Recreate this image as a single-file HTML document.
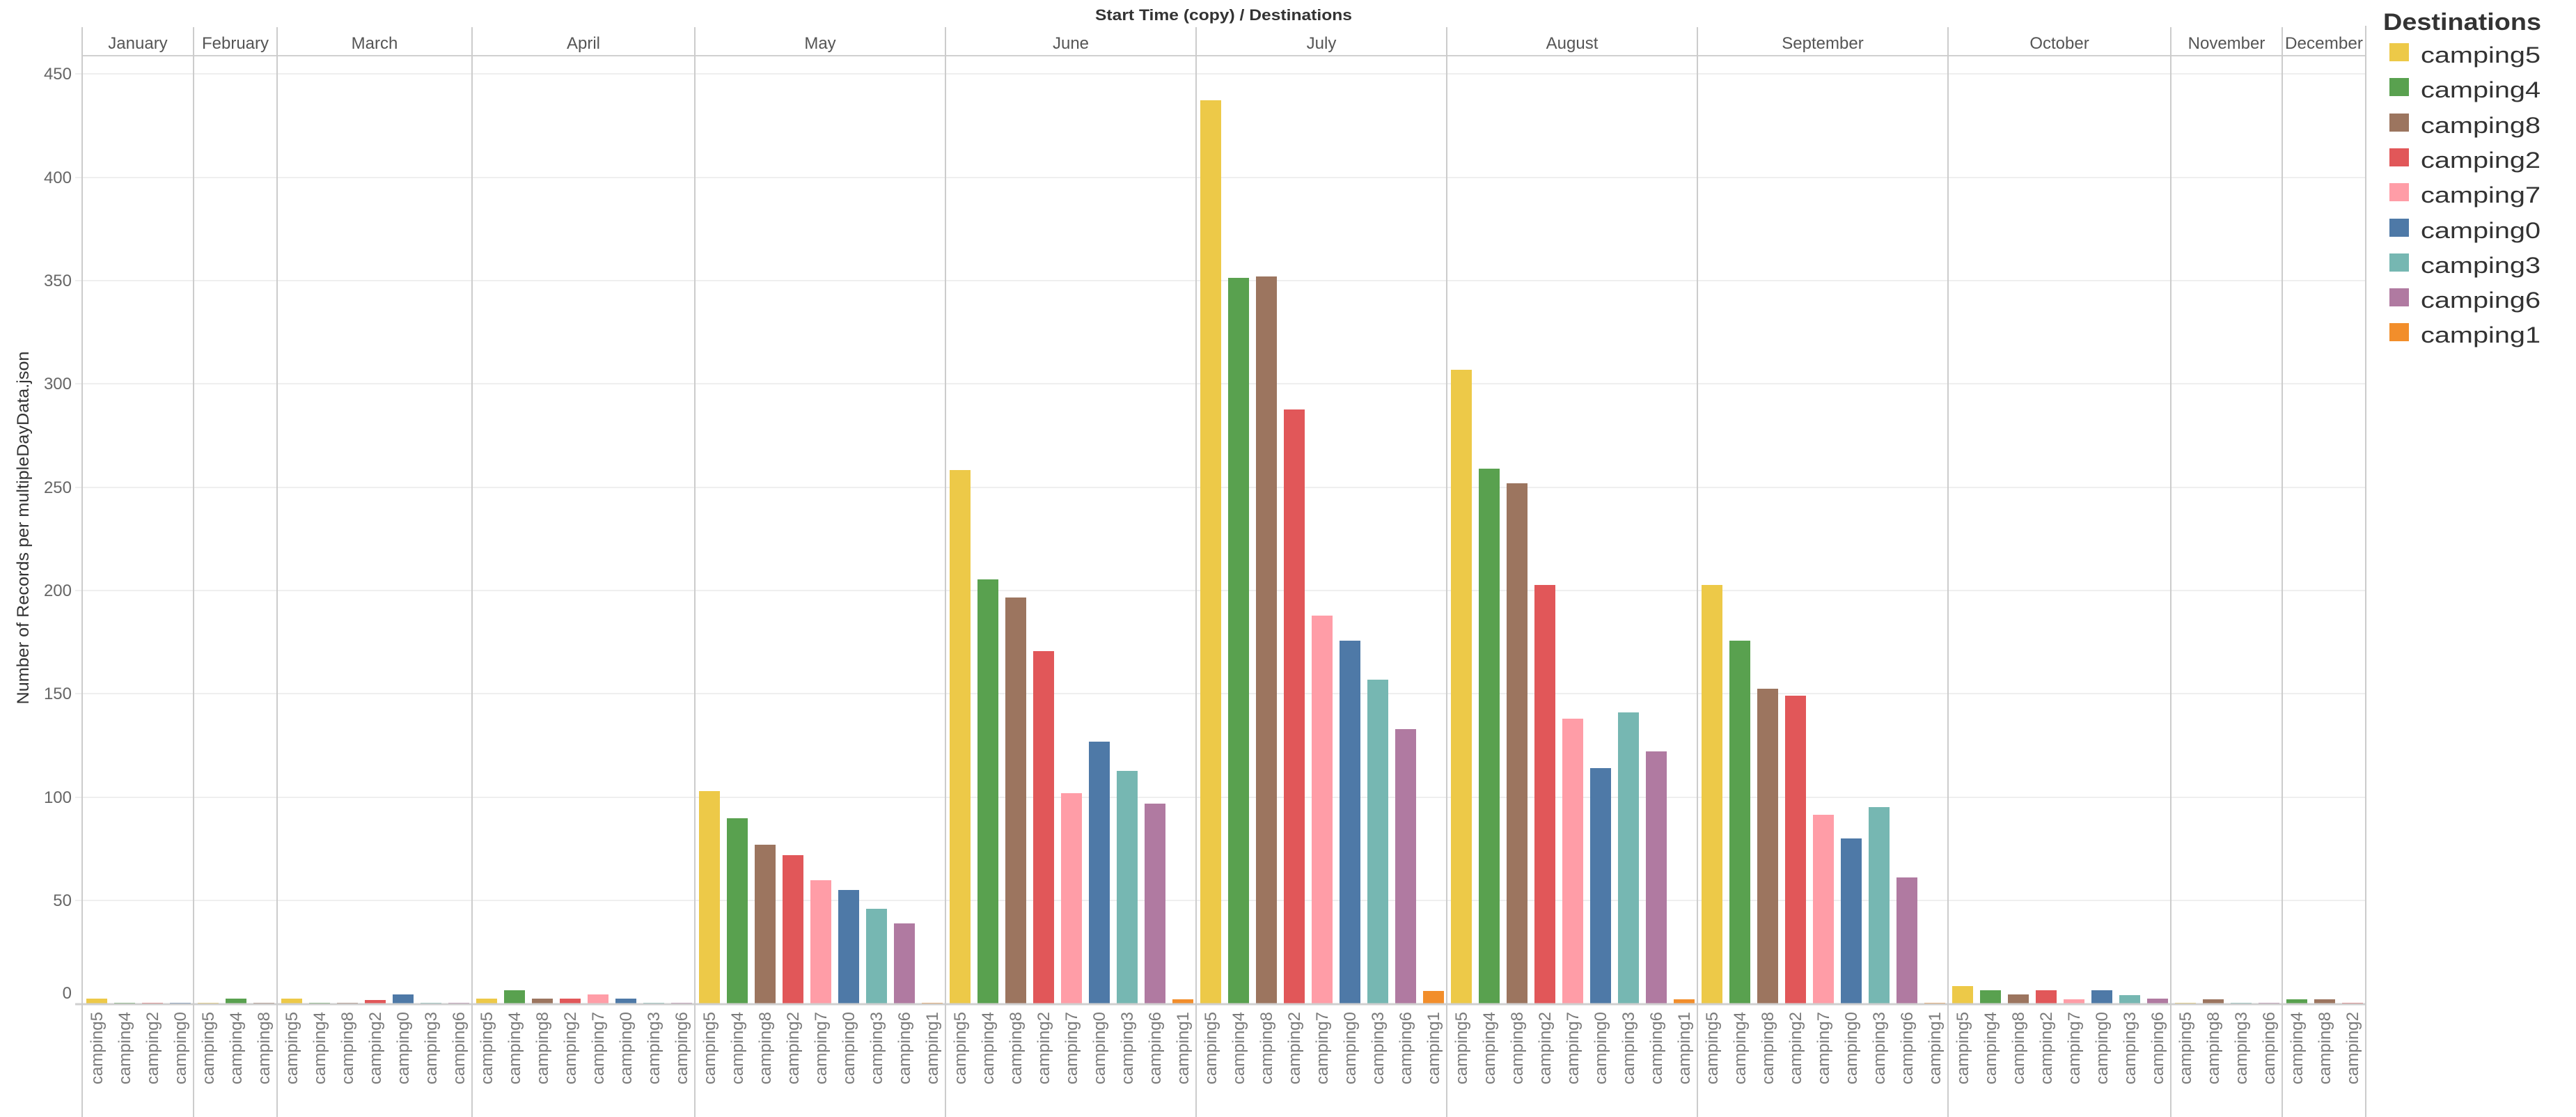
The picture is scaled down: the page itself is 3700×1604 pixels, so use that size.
<!DOCTYPE html>
<html><head><meta charset="utf-8"><style>
html,body{margin:0;padding:0;background:#fff;}
svg{display:block;}
.c5{fill:#edc948}.c4{fill:#59a14f}.c8{fill:#9c755f}.c2{fill:#e15759}.c7{fill:#ff9da7}.c0{fill:#4e79a7}.c3{fill:#76b7b2}.c6{fill:#b07aa1}.c1{fill:#f28e2b}
.xl{font-family:"Liberation Sans",sans-serif;font-size:24px;fill:#7a7a7a;}
.yl{font-family:"Liberation Sans",sans-serif;font-size:24px;fill:#666;}
.ml{font-family:"Liberation Sans",sans-serif;font-size:24px;fill:#555;}
.lg{font-family:"Liberation Sans",sans-serif;font-size:32px;fill:#333;}
</style></head><body>
<svg width="3700" height="1604" viewBox="0 0 3700 1604" xmlns="http://www.w3.org/2000/svg">
<rect width="3700" height="1604" fill="#fff"/>
<!-- gridlines -->
<g stroke="#efefef" stroke-width="2">
<line x1="108" y1="1293" x2="3398" y2="1293"/>
<line x1="108" y1="1145" x2="3398" y2="1145"/>
<line x1="108" y1="996" x2="3398" y2="996"/>
<line x1="108" y1="848" x2="3398" y2="848"/>
<line x1="108" y1="700" x2="3398" y2="700"/>
<line x1="108" y1="551" x2="3398" y2="551"/>
<line x1="108" y1="403" x2="3398" y2="403"/>
<line x1="108" y1="255" x2="3398" y2="255"/>
<line x1="108" y1="106" x2="3398" y2="106"/>
</g>
<!-- title -->
<text x="1573" y="29" font-family="Liberation Sans,sans-serif" font-size="22" font-weight="bold" fill="#333" textLength="369" lengthAdjust="spacingAndGlyphs">Start Time (copy)  /  Destinations</text>
<!-- y axis title -->
<text transform="translate(41,758) rotate(-90)" text-anchor="middle" font-family="Liberation Sans,sans-serif" font-size="24" fill="#333" textLength="507" lengthAdjust="spacingAndGlyphs">Number of Records per multipleDayData.json</text>
<!-- y labels -->
<g class="yl" text-anchor="end">
<text x="103" y="114">450</text>
<text x="103" y="263">400</text>
<text x="103" y="411">350</text>
<text x="103" y="559">300</text>
<text x="103" y="708">250</text>
<text x="103" y="856">200</text>
<text x="103" y="1004">150</text>
<text x="103" y="1153">100</text>
<text x="103" y="1301">50</text>
<text x="103" y="1434">0</text>
</g>
<!-- month labels -->
<g class="ml" text-anchor="middle">
<text x="198" y="70">January</text>
<text x="338" y="70">February</text>
<text x="538" y="70">March</text>
<text x="838" y="70">April</text>
<text x="1178" y="70">May</text>
<text x="1538" y="70">June</text>
<text x="1898" y="70">July</text>
<text x="2258" y="70">August</text>
<text x="2618" y="70">September</text>
<text x="2958" y="70">October</text>
<text x="3198" y="70">November</text>
<text x="3338" y="70" textLength="112" lengthAdjust="spacingAndGlyphs">December</text>
</g>
<!-- bars -->
<g>
<rect class="c5" x="124" y="1434" width="30" height="7"/>
<rect class="c4" x="164" y="1440" width="30" height="1"/>
<rect class="c2" x="204" y="1440" width="30" height="1"/>
<rect class="c0" x="244" y="1440" width="30" height="1"/>
<rect class="c5" x="284" y="1440" width="30" height="1"/>
<rect class="c4" x="324" y="1434" width="30" height="7"/>
<rect class="c8" x="364" y="1440" width="30" height="1"/>
<rect class="c5" x="404" y="1434" width="30" height="7"/>
<rect class="c4" x="444" y="1440" width="30" height="1"/>
<rect class="c8" x="484" y="1440" width="30" height="1"/>
<rect class="c2" x="524" y="1436" width="30" height="5"/>
<rect class="c0" x="564" y="1428" width="30" height="13"/>
<rect class="c3" x="604" y="1440" width="30" height="1"/>
<rect class="c6" x="644" y="1440" width="30" height="1"/>
<rect class="c5" x="684" y="1434" width="30" height="7"/>
<rect class="c4" x="724" y="1422" width="30" height="19"/>
<rect class="c8" x="764" y="1434" width="30" height="7"/>
<rect class="c2" x="804" y="1434" width="30" height="7"/>
<rect class="c7" x="844" y="1428" width="30" height="13"/>
<rect class="c0" x="884" y="1434" width="30" height="7"/>
<rect class="c3" x="924" y="1440" width="30" height="1"/>
<rect class="c6" x="964" y="1440" width="30" height="1"/>
<rect class="c5" x="1004" y="1136" width="30" height="305"/>
<rect class="c4" x="1044" y="1175" width="30" height="266"/>
<rect class="c8" x="1084" y="1213" width="30" height="228"/>
<rect class="c2" x="1124" y="1228" width="30" height="213"/>
<rect class="c7" x="1164" y="1264" width="30" height="177"/>
<rect class="c0" x="1204" y="1278" width="30" height="163"/>
<rect class="c3" x="1244" y="1305" width="30" height="136"/>
<rect class="c6" x="1284" y="1326" width="30" height="115"/>
<rect class="c1" x="1324" y="1440" width="30" height="1"/>
<rect class="c5" x="1364" y="675" width="30" height="766"/>
<rect class="c4" x="1404" y="832" width="30" height="609"/>
<rect class="c8" x="1444" y="858" width="30" height="583"/>
<rect class="c2" x="1484" y="935" width="30" height="506"/>
<rect class="c7" x="1524" y="1139" width="30" height="302"/>
<rect class="c0" x="1564" y="1065" width="30" height="376"/>
<rect class="c3" x="1604" y="1107" width="30" height="334"/>
<rect class="c6" x="1644" y="1154" width="30" height="287"/>
<rect class="c1" x="1684" y="1435" width="30" height="6"/>
<rect class="c5" x="1724" y="144" width="30" height="1297"/>
<rect class="c4" x="1764" y="399" width="30" height="1042"/>
<rect class="c8" x="1804" y="397" width="30" height="1044"/>
<rect class="c2" x="1844" y="588" width="30" height="853"/>
<rect class="c7" x="1884" y="884" width="30" height="557"/>
<rect class="c0" x="1924" y="920" width="30" height="521"/>
<rect class="c3" x="1964" y="976" width="30" height="465"/>
<rect class="c6" x="2004" y="1047" width="30" height="394"/>
<rect class="c1" x="2044" y="1423" width="30" height="18"/>
<rect class="c5" x="2084" y="531" width="30" height="910"/>
<rect class="c4" x="2124" y="673" width="30" height="768"/>
<rect class="c8" x="2164" y="694" width="30" height="747"/>
<rect class="c2" x="2204" y="840" width="30" height="601"/>
<rect class="c7" x="2244" y="1032" width="30" height="409"/>
<rect class="c0" x="2284" y="1103" width="30" height="338"/>
<rect class="c3" x="2324" y="1023" width="30" height="418"/>
<rect class="c6" x="2364" y="1079" width="30" height="362"/>
<rect class="c1" x="2404" y="1435" width="30" height="6"/>
<rect class="c5" x="2444" y="840" width="30" height="601"/>
<rect class="c4" x="2484" y="920" width="30" height="521"/>
<rect class="c8" x="2524" y="989" width="30" height="452"/>
<rect class="c2" x="2564" y="999" width="30" height="442"/>
<rect class="c7" x="2604" y="1170" width="30" height="271"/>
<rect class="c0" x="2644" y="1204" width="30" height="237"/>
<rect class="c3" x="2684" y="1159" width="30" height="282"/>
<rect class="c6" x="2724" y="1260" width="30" height="181"/>
<rect class="c1" x="2764" y="1440" width="30" height="1"/>
<rect class="c5" x="2804" y="1416" width="30" height="25"/>
<rect class="c4" x="2844" y="1422" width="30" height="19"/>
<rect class="c8" x="2884" y="1428" width="30" height="13"/>
<rect class="c2" x="2924" y="1422" width="30" height="19"/>
<rect class="c7" x="2964" y="1435" width="30" height="6"/>
<rect class="c0" x="3004" y="1422" width="30" height="19"/>
<rect class="c3" x="3044" y="1429" width="30" height="12"/>
<rect class="c6" x="3084" y="1434" width="30" height="7"/>
<rect class="c5" x="3124" y="1440" width="30" height="1"/>
<rect class="c8" x="3164" y="1435" width="30" height="6"/>
<rect class="c3" x="3204" y="1440" width="30" height="1"/>
<rect class="c6" x="3244" y="1440" width="30" height="1"/>
<rect class="c4" x="3284" y="1435" width="30" height="6"/>
<rect class="c8" x="3324" y="1435" width="30" height="6"/>
<rect class="c2" x="3364" y="1440" width="30" height="1"/>
</g>
<!-- axis & frame lines -->
<line x1="108" y1="1442" x2="3398" y2="1442" stroke="#cfcfcf" stroke-width="3"/>
<line x1="118" y1="80" x2="3398" y2="80" stroke="#d0d0d0" stroke-width="2"/>
<g stroke="#cccccc" stroke-width="2">
<line x1="118" y1="39" x2="118" y2="1604"/>
<line x1="278" y1="39" x2="278" y2="1604"/>
<line x1="398" y1="39" x2="398" y2="1604"/>
<line x1="678" y1="39" x2="678" y2="1604"/>
<line x1="998" y1="39" x2="998" y2="1604"/>
<line x1="1358" y1="39" x2="1358" y2="1604"/>
<line x1="1718" y1="39" x2="1718" y2="1604"/>
<line x1="2078" y1="39" x2="2078" y2="1604"/>
<line x1="2438" y1="39" x2="2438" y2="1604"/>
<line x1="2798" y1="39" x2="2798" y2="1604"/>
<line x1="3118" y1="39" x2="3118" y2="1604"/>
<line x1="3278" y1="39" x2="3278" y2="1604"/>
<line x1="3398" y1="37" x2="3398" y2="1604"/>
</g>
<!-- x labels -->
<g class="xl" text-anchor="end">
<text transform="translate(147,1453) rotate(-90)">camping5</text>
<text transform="translate(187,1453) rotate(-90)">camping4</text>
<text transform="translate(227,1453) rotate(-90)">camping2</text>
<text transform="translate(267,1453) rotate(-90)">camping0</text>
<text transform="translate(307,1453) rotate(-90)">camping5</text>
<text transform="translate(347,1453) rotate(-90)">camping4</text>
<text transform="translate(387,1453) rotate(-90)">camping8</text>
<text transform="translate(427,1453) rotate(-90)">camping5</text>
<text transform="translate(467,1453) rotate(-90)">camping4</text>
<text transform="translate(507,1453) rotate(-90)">camping8</text>
<text transform="translate(547,1453) rotate(-90)">camping2</text>
<text transform="translate(587,1453) rotate(-90)">camping0</text>
<text transform="translate(627,1453) rotate(-90)">camping3</text>
<text transform="translate(667,1453) rotate(-90)">camping6</text>
<text transform="translate(707,1453) rotate(-90)">camping5</text>
<text transform="translate(747,1453) rotate(-90)">camping4</text>
<text transform="translate(787,1453) rotate(-90)">camping8</text>
<text transform="translate(827,1453) rotate(-90)">camping2</text>
<text transform="translate(867,1453) rotate(-90)">camping7</text>
<text transform="translate(907,1453) rotate(-90)">camping0</text>
<text transform="translate(947,1453) rotate(-90)">camping3</text>
<text transform="translate(987,1453) rotate(-90)">camping6</text>
<text transform="translate(1027,1453) rotate(-90)">camping5</text>
<text transform="translate(1067,1453) rotate(-90)">camping4</text>
<text transform="translate(1107,1453) rotate(-90)">camping8</text>
<text transform="translate(1147,1453) rotate(-90)">camping2</text>
<text transform="translate(1187,1453) rotate(-90)">camping7</text>
<text transform="translate(1227,1453) rotate(-90)">camping0</text>
<text transform="translate(1267,1453) rotate(-90)">camping3</text>
<text transform="translate(1307,1453) rotate(-90)">camping6</text>
<text transform="translate(1347,1453) rotate(-90)">camping1</text>
<text transform="translate(1387,1453) rotate(-90)">camping5</text>
<text transform="translate(1427,1453) rotate(-90)">camping4</text>
<text transform="translate(1467,1453) rotate(-90)">camping8</text>
<text transform="translate(1507,1453) rotate(-90)">camping2</text>
<text transform="translate(1547,1453) rotate(-90)">camping7</text>
<text transform="translate(1587,1453) rotate(-90)">camping0</text>
<text transform="translate(1627,1453) rotate(-90)">camping3</text>
<text transform="translate(1667,1453) rotate(-90)">camping6</text>
<text transform="translate(1707,1453) rotate(-90)">camping1</text>
<text transform="translate(1747,1453) rotate(-90)">camping5</text>
<text transform="translate(1787,1453) rotate(-90)">camping4</text>
<text transform="translate(1827,1453) rotate(-90)">camping8</text>
<text transform="translate(1867,1453) rotate(-90)">camping2</text>
<text transform="translate(1907,1453) rotate(-90)">camping7</text>
<text transform="translate(1947,1453) rotate(-90)">camping0</text>
<text transform="translate(1987,1453) rotate(-90)">camping3</text>
<text transform="translate(2027,1453) rotate(-90)">camping6</text>
<text transform="translate(2067,1453) rotate(-90)">camping1</text>
<text transform="translate(2107,1453) rotate(-90)">camping5</text>
<text transform="translate(2147,1453) rotate(-90)">camping4</text>
<text transform="translate(2187,1453) rotate(-90)">camping8</text>
<text transform="translate(2227,1453) rotate(-90)">camping2</text>
<text transform="translate(2267,1453) rotate(-90)">camping7</text>
<text transform="translate(2307,1453) rotate(-90)">camping0</text>
<text transform="translate(2347,1453) rotate(-90)">camping3</text>
<text transform="translate(2387,1453) rotate(-90)">camping6</text>
<text transform="translate(2427,1453) rotate(-90)">camping1</text>
<text transform="translate(2467,1453) rotate(-90)">camping5</text>
<text transform="translate(2507,1453) rotate(-90)">camping4</text>
<text transform="translate(2547,1453) rotate(-90)">camping8</text>
<text transform="translate(2587,1453) rotate(-90)">camping2</text>
<text transform="translate(2627,1453) rotate(-90)">camping7</text>
<text transform="translate(2667,1453) rotate(-90)">camping0</text>
<text transform="translate(2707,1453) rotate(-90)">camping3</text>
<text transform="translate(2747,1453) rotate(-90)">camping6</text>
<text transform="translate(2787,1453) rotate(-90)">camping1</text>
<text transform="translate(2827,1453) rotate(-90)">camping5</text>
<text transform="translate(2867,1453) rotate(-90)">camping4</text>
<text transform="translate(2907,1453) rotate(-90)">camping8</text>
<text transform="translate(2947,1453) rotate(-90)">camping2</text>
<text transform="translate(2987,1453) rotate(-90)">camping7</text>
<text transform="translate(3027,1453) rotate(-90)">camping0</text>
<text transform="translate(3067,1453) rotate(-90)">camping3</text>
<text transform="translate(3107,1453) rotate(-90)">camping6</text>
<text transform="translate(3147,1453) rotate(-90)">camping5</text>
<text transform="translate(3187,1453) rotate(-90)">camping8</text>
<text transform="translate(3227,1453) rotate(-90)">camping3</text>
<text transform="translate(3267,1453) rotate(-90)">camping6</text>
<text transform="translate(3307,1453) rotate(-90)">camping4</text>
<text transform="translate(3347,1453) rotate(-90)">camping8</text>
<text transform="translate(3387,1453) rotate(-90)">camping2</text>
</g>
<!-- legend -->
<text x="3423" y="43" font-family="Liberation Sans,sans-serif" font-size="34" font-weight="bold" fill="#333" textLength="227" lengthAdjust="spacingAndGlyphs">Destinations</text>
<rect class="c5" x="3432" y="62" width="28" height="26"/>
<rect class="c4" x="3432" y="112" width="28" height="26"/>
<rect class="c8" x="3432" y="163" width="28" height="26"/>
<rect class="c2" x="3432" y="213" width="28" height="26"/>
<rect class="c7" x="3432" y="263" width="28" height="26"/>
<rect class="c0" x="3432" y="314" width="28" height="26"/>
<rect class="c3" x="3432" y="364" width="28" height="26"/>
<rect class="c6" x="3432" y="414" width="28" height="26"/>
<rect class="c1" x="3432" y="464" width="28" height="26"/>
<g class="lg">
<text x="3477" y="90" textLength="172" lengthAdjust="spacingAndGlyphs">camping5</text>
<text x="3477" y="140" textLength="172" lengthAdjust="spacingAndGlyphs">camping4</text>
<text x="3477" y="191" textLength="172" lengthAdjust="spacingAndGlyphs">camping8</text>
<text x="3477" y="241" textLength="172" lengthAdjust="spacingAndGlyphs">camping2</text>
<text x="3477" y="291" textLength="172" lengthAdjust="spacingAndGlyphs">camping7</text>
<text x="3477" y="342" textLength="172" lengthAdjust="spacingAndGlyphs">camping0</text>
<text x="3477" y="392" textLength="172" lengthAdjust="spacingAndGlyphs">camping3</text>
<text x="3477" y="442" textLength="172" lengthAdjust="spacingAndGlyphs">camping6</text>
<text x="3477" y="492" textLength="172" lengthAdjust="spacingAndGlyphs">camping1</text>
</g>
</svg>
</body></html>
